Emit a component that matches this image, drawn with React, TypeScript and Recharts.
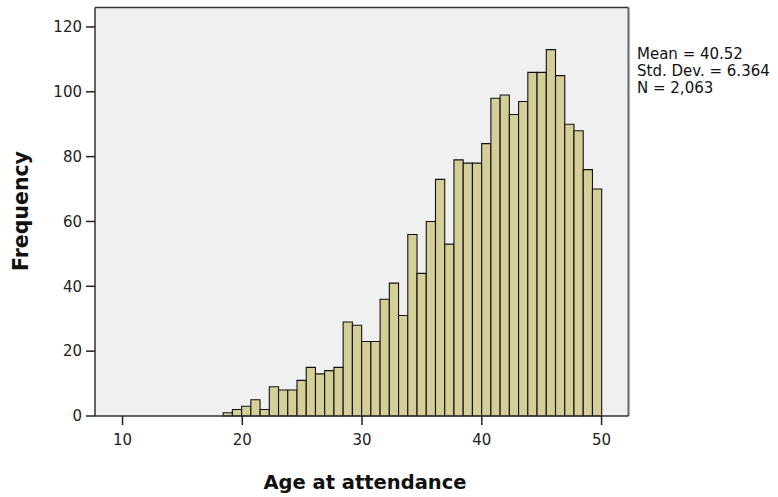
import React from 'react';
import { ComposedChart, XAxis, YAxis, Line, ReferenceArea, ReferenceLine } from 'recharts';

const AGE_TICKS = [10, 20, 30, 40, 50];
const FREQ_TICKS = [0, 20, 40, 60, 80, 100, 120];
const BIN_START = 18.4;
const BIN_WIDTH = 0.771;
const FREQUENCIES = [
  1, 2, 3, 5, 2, 9, 8, 8, 11, 15, 13, 14, 15, 29, 28, 23, 23, 36, 41, 31,
  56, 44, 60, 73, 53, 79, 78, 78, 84, 98, 99, 93, 97, 106, 106, 113, 105, 90, 88, 76, 70,
];
const STATS = ['Mean = 40.52', 'Std. Dev. = 6.364', 'N = 2,063'];
const X_TITLE = 'Age at attendance';
const Y_TITLE = 'Frequency';

const X_DOMAIN: [number, number] = [7.7, 52.25];
const Y_DOMAIN: [number, number] = [0, 126];

const bins = FREQUENCIES.map((f, i) => ({
  x0: BIN_START + i * BIN_WIDTH,
  x1: BIN_START + (i + 1) * BIN_WIDTH,
  mid: BIN_START + (i + 0.5) * BIN_WIDTH,
  f,
}));

const FONT = '"DejaVu Sans", sans-serif';
const tickStyle = { fill: '#222', fontSize: 15, fontFamily: FONT };

export default function App() {
  return (
    <div style={{ position: 'absolute', left: 0, top: 0, width: 778, height: 497, background: '#fff' }}>
      <ComposedChart
        width={778}
        height={497}
        data={bins}
        margin={{ top: 7.5, right: 149.5, bottom: 0, left: 0 }}
      >
        <ReferenceArea x1={X_DOMAIN[0]} x2={X_DOMAIN[1]} y1={Y_DOMAIN[0]} y2={Y_DOMAIN[1]} fill="#f0f0f0" fillOpacity={1} stroke="none" />
        {bins.map((b, i) => (
          <ReferenceArea
            key={i}
            x1={b.x0}
            x2={b.x1}
            y1={0}
            y2={b.f}
            fill="#d4cf98"
            fillOpacity={1}
            stroke="#111"
            strokeWidth={1.1}
            strokeOpacity={1}
          />
        ))}
        <ReferenceLine y={Y_DOMAIN[1]} stroke="#333" strokeWidth={1.5} />
        <ReferenceLine x={X_DOMAIN[1]} stroke="#666" strokeWidth={2} />
        <XAxis
          type="number"
          dataKey="mid"
          domain={X_DOMAIN}
          ticks={AGE_TICKS}
          allowDataOverflow
          height={81}
          tickSize={9}
          tickMargin={9}
          stroke="#333"
          strokeWidth={1.5}
          tick={tickStyle}
          tickLine={{ stroke: '#222', strokeWidth: 1.5 }}
        />
        <YAxis
          type="number"
          domain={Y_DOMAIN}
          ticks={FREQ_TICKS}
          allowDataOverflow
          width={95}
          tickSize={9}
          tickMargin={4}
          stroke="#333"
          strokeWidth={1.5}
          tick={tickStyle}
          tickLine={{ stroke: '#222', strokeWidth: 1.5 }}
        />
        <Line dataKey="f" stroke="none" dot={false} activeDot={false} isAnimationActive={false} />
        <text x={365} y={489} textAnchor="middle" fontFamily={FONT} fontWeight="bold" fontSize={19.5} fill="#111">
          {X_TITLE}
        </text>
        <text x={28} y={211} textAnchor="middle" fontFamily={FONT} fontWeight="bold" fontSize={20.5} fill="#111" transform="rotate(-90 28 211)">
          {Y_TITLE}
        </text>
        {STATS.map((s, i) => (
          <text key={i} x={637} y={58.5 + i * 17.3} fontFamily={FONT} fontSize={15} fill="#111">
            {s}
          </text>
        ))}
      </ComposedChart>
    </div>
  );
}
